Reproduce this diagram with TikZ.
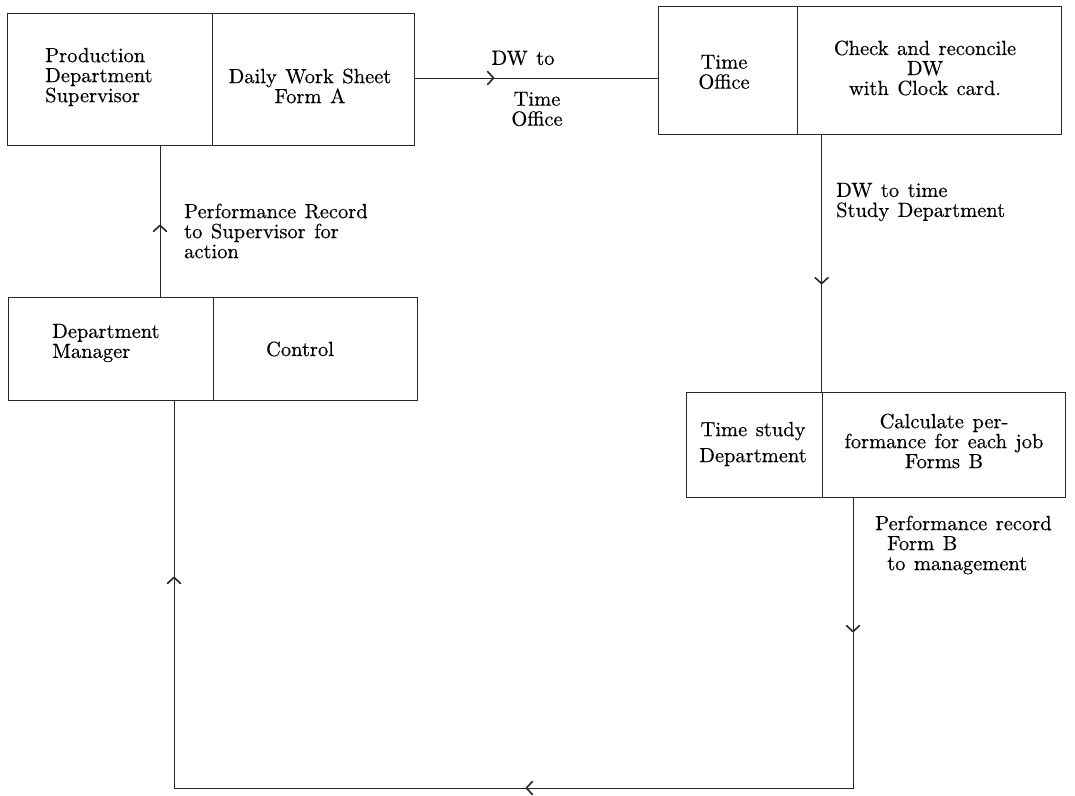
\documentclass[tikz,border=0pt]{standalone}
\usepackage{fontspec}
\setmainfont{lmroman10-regular.otf}[WordSpace=1.25, FakeBold=0.4]
\usetikzlibrary{arrows.meta,decorations.markings}
\begin{document}
\begin{tikzpicture}[x=1pt,y=-1pt,
  box/.style={draw=black!85, line width=0.8pt, rectangle, inner sep=0pt},
  txt/.style={font=\fontsize{20.5}{20}\selectfont, inner sep=0pt, align=center},
  txtl/.style={txt, align=left, anchor=west},
  conn/.style={draw=black!85, line width=0.8pt},
  tipm/.style={postaction={decorate}, decoration={markings, mark=at position #1 with {\arrow[line width=1.6pt]{Straight Barb[length=6pt,width=13pt,round]}}}}
]
\useasboundingbox (0,0) rectangle (1075,795);

% boxes
\node[box, minimum width=205, minimum height=132] (b1l) at (109.5,79) {};
\node[box, minimum width=202, minimum height=132] (b1r) at (313,79) {};
\node[box, minimum width=139, minimum height=128] (b2l) at (727.5,70) {};
\node[box, minimum width=264, minimum height=128] (b2r) at (929,70) {};
\node[box, minimum width=205, minimum height=103] (b4l) at (110.5,348.5) {};
\node[box, minimum width=204, minimum height=103] (b4r) at (315,348.5) {};
\node[box, minimum width=136, minimum height=105] (b3l) at (754,444.5) {};
\node[box, minimum width=243, minimum height=105] (b3r) at (943.5,444.5) {};

% box texts
\node[txtl] (t1l) at (45,77) {Production\\Department\\Supervisor};
\node[txt] (t1r) at (310,86) {Daily Work Sheet\\Form A};
\node[txt] (t2l) at (724,72) {Time\\Office};
\node[txt] (t2r) at (925,68) {Check and reconcile\\DW\\with Clock card.};
\node[txtl] (t4l) at (52,343) {Department\\Manager};
\node[txt] (t4r) at (300,349) {Control};
\node[txt] (t3l) at (753,444) {Time study\\[6pt]Department};
\node[txt] (t3r) at (944,441) {Calculate per-\\formance for each job\\Forms B};

% connector labels
\node[txt] (l1a) at (523,58) {DW to};
\node[txt] (l1b) at (537,109) {Time\\Office};
\node[txtl] (l2) at (836,202) {DW to time\\Study Department};
\node[txtl] (l3) at (184,231) {Performance Record\\to Supervisor for\\action};
\node[txtl] (l4) at (875,545) {Performance record\\\hspace*{12pt}Form B\\\hspace*{12pt}to management};

% helper coordinates
\coordinate (yA) at (0,78);
\coordinate (vA) at (160,0);
\coordinate (cR) at (853,788);
\coordinate (cL) at (174,788);

% connectors
\path[conn, tipm=80pt] (b1r.east |- yA) -- (b2l.west |- yA);
\path[conn, tipm=150pt] (b2r.south -| b3r.west) -- (b3r.north west);
\path[conn, tipm=72pt] (b4l.north -| vA) -- (b1l.south -| vA);
\path[conn, postaction={decorate}, decoration={markings,
   mark=at position 135pt with {\arrow[line width=1.6pt]{Straight Barb[length=6pt,width=13pt,round]}},
   mark=at position 618pt with {\arrow[line width=1.6pt]{Straight Barb[length=6pt,width=13pt,round]}},
   mark=at position 1181pt with {\arrow[line width=1.6pt]{Straight Barb[length=6pt,width=13pt,round]}}}]
  (b3r.south -| cR) -- (cR) -- (cL) -- (b4l.south -| cL);
\end{tikzpicture}
\end{document}
